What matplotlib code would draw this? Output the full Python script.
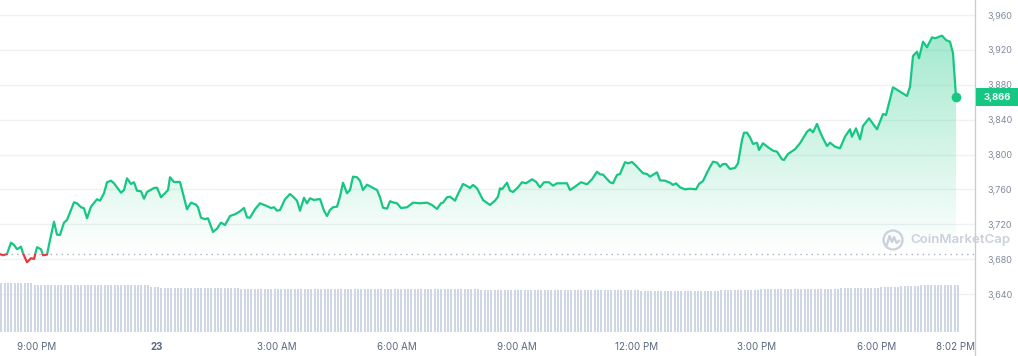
import numpy as np
import matplotlib.pyplot as plt
from matplotlib.patches import Polygon, Rectangle, Circle
from matplotlib.lines import Line2D
from matplotlib.colors import to_rgb
from matplotlib.transforms import blended_transform_factory

plt.rcParams['font.family'] = ['Inter', 'DejaVu Sans']

# minutes since 8:04 PM (previous day)
minutes = [0, 4.5, 10.5, 16.5, 21, 25.5, 31.5, 34.5, 40.5, 46.5,
           51, 55.5, 61.5, 64.5, 70.5, 75, 81, 85.5, 90, 96,
           100.5, 111, 115.5, 121.5, 126, 130.5, 136.5, 145.5, 150, 156,
           160.5, 166.5, 171, 181.5, 186, 190.5, 196.5, 201, 205.5, 211.5,
           216, 220.5, 231, 235.5, 241.5, 247.5, 252, 255, 261, 270,
           280.5, 286.5, 294, 297, 301.5, 307.5, 312, 319.5, 325.5, 331.5,
           337.5, 345, 352.5, 360, 366, 370.5, 375, 382.5, 390, 397.5,
           406.5, 411, 415.5, 420, 427.5, 435, 439.5, 445.5, 450, 456,
           460.5, 465, 471, 480, 486, 490.5, 495, 499.5, 505.5, 510,
           514.5, 520.5, 525, 529.5, 535.5, 540, 544.5, 550.5, 558, 565.5,
           570, 574.5, 580.5, 585, 591, 595.5, 601.5, 610.5, 619.5, 630,
           640.5, 648, 655.5, 661.5, 664.5, 670.5, 675, 682.5, 687, 694.5,
           700.5, 705, 709.5, 715.5, 724.5, 735, 742.5, 747, 750, 753,
           760.5, 765, 769.5, 777, 783, 789, 798, 804, 810, 816,
           823.5, 829.5, 835.5, 850.5, 855, 862.5, 871.5, 880.5, 888, 895.5,
           900, 904.5, 915, 919.5, 925.5, 930, 937.5, 942, 948, 952.5,
           964.5, 970.5, 975, 985.5, 990, 997.5, 1005, 1009.5, 1014, 1020,
           1027.5, 1035, 1044, 1048.5, 1054.5, 1062, 1069.5, 1075.5, 1080, 1084.5,
           1089, 1095, 1102.5, 1107, 1113, 1116, 1120.5, 1125, 1129.5, 1135.5,
           1138.5, 1144.5, 1152, 1159.5, 1165.5, 1173, 1176, 1182, 1192.5, 1200,
           1210.5, 1215, 1219.5, 1225.5, 1230, 1234.5, 1240.5, 1245, 1252.5, 1260,
           1267.5, 1275, 1278, 1284, 1290, 1294.5, 1303.5, 1315.5, 1324.5, 1329,
           1339.5, 1350, 1360.5, 1365, 1369.5, 1375.5, 1378.5, 1384.5, 1390.5, 1398,
           1402.5, 1413, 1419, 1425, 1429.5, 1434]

price = [3686.1, 3684.6, 3686.1, 3699.0, 3696.4, 3691.5, 3694.4, 3686.9, 3676.6, 3681.2,
         3680.4, 3693.8, 3691.5, 3684.6, 3685.3, 3702.1, 3723.1, 3708.2, 3707.9, 3722.0,
         3725.0, 3745.3, 3744.2, 3739.6, 3738.5, 3727.0, 3740.3, 3748.8, 3747.2, 3755.7,
         3768.3, 3770.1, 3767.1, 3756.3, 3759.4, 3772.8, 3766.3, 3768.3, 3758.6, 3757.9,
         3749.5, 3757.1, 3761.7, 3762.1, 3751.1, 3755.7, 3759.4, 3774.0, 3768.6, 3768.6,
         3737.3, 3744.9, 3742.6, 3739.6, 3727.7, 3725.9, 3727.0, 3711.3, 3715.1, 3722.0,
         3719.3, 3729.6, 3731.6, 3735.0, 3738.8, 3728.1, 3727.7, 3737.3, 3744.2, 3741.9,
         3738.8, 3739.6, 3735.7, 3736.5, 3748.8, 3754.8, 3751.8, 3747.2, 3735.7, 3750.6,
         3744.2, 3749.9, 3748.0, 3749.1, 3735.7, 3729.6, 3736.5, 3739.6, 3740.3, 3751.8,
         3767.8, 3755.7, 3759.4, 3774.7, 3774.0, 3770.1, 3759.4, 3765.5, 3762.5, 3759.4,
         3751.1, 3739.1, 3738.0, 3746.5, 3744.9, 3744.2, 3738.8, 3739.6, 3744.9, 3744.2,
         3744.9, 3742.2, 3737.7, 3744.2, 3744.9, 3751.1, 3751.8, 3747.2, 3754.8, 3766.3,
         3764.0, 3761.7, 3765.2, 3761.4, 3748.0, 3742.2, 3747.2, 3751.8, 3761.4, 3760.2,
         3767.8, 3758.6, 3757.1, 3762.5, 3768.3, 3767.1, 3771.7, 3768.9, 3762.5, 3768.3,
         3768.3, 3764.4, 3767.1, 3767.1, 3759.4, 3763.2, 3768.3, 3766.0, 3771.7, 3780.4,
         3777.4, 3777.0, 3768.3, 3767.1, 3776.6, 3777.8, 3791.2, 3790.0, 3791.5, 3788.4,
         3778.6, 3777.8, 3774.7, 3779.7, 3770.5, 3770.1, 3767.8, 3765.2, 3767.1, 3762.5,
         3760.2, 3760.9, 3760.2, 3766.3, 3769.7, 3781.6, 3791.9, 3790.8, 3786.1, 3789.2,
         3789.2, 3783.5, 3784.7, 3790.0, 3816.7, 3825.1, 3825.1, 3819.8, 3812.2, 3813.6,
         3805.3, 3813.0, 3808.4, 3804.5, 3803.3, 3794.6, 3793.8, 3800.7, 3806.1, 3813.0,
         3826.2, 3829.0, 3825.6, 3835.1, 3826.2, 3818.7, 3809.9, 3813.6, 3809.1, 3807.2,
         3820.5, 3829.0, 3820.5, 3830.1, 3817.5, 3832.8, 3841.6, 3829.0, 3846.5, 3845.4,
         3877.1, 3872.1, 3867.2, 3877.8, 3913.0, 3917.9, 3910.4, 3929.4, 3923.0, 3934.4,
         3933.3, 3936.3, 3931.3, 3929.4, 3916.1, 3866.0]

# 5-minute volume bars (relative units), 24 per row = 2 hours
volume = [48.7] * 10 + [47.0] * 14 + \
         [47.0] * 21 + [45.5] * 3 + \
         [44.5] * 24 + \
         [43.5] * 24 + \
         [43.0] * 24 + \
         [43.0] * 24 + \
         [42.5] * 24 + \
         [42.0] * 24 + \
         [41.5] * 24 + \
         [42.0] * 12 + [43.0] * 12 + \
         [43.5] * 12 + [44.5] * 12 + \
         [45.0] * 6 + [46.0] * 6 + [47.0] * 12

price_ticks = [3640, 3680, 3720, 3760, 3800, 3840, 3880, 3920, 3960]
time_ticks = [55.5, 235.5, 415.5, 595.5, 775.5, 955.5, 1135.5, 1315.5, 1434]
time_labels = ['9:00 PM', '23', '3:00 AM', '6:00 AM', '9:00 AM', '12:00 PM',
               '3:00 PM', '6:00 PM', '8:02 PM']

GREEN = '#16c784'
RED = '#ea3943'

t = np.array(minutes)
p = np.array(price)
open_price = p[0]
vol_t = np.arange(len(volume)) * 5 + 2

fig = plt.figure(figsize=(10.18, 3.56), dpi=100)
ax = fig.add_axes([0, 21 / 356, 975 / 1018, 335 / 356])
for s in ax.spines.values():
    s.set_visible(False)

# volume on its own scale
axv = ax.twinx()
axv.bar(vol_t, volume, width=3.0, color='#cfd6e4', linewidth=0)
axv.set_ylim(-3, 332)
axv.axis('off')

# gradient fill under the line
n = 256
img = np.zeros((n, 1, 4))
img[:, 0, :3] = to_rgb(GREEN)
img[:, 0, 3] = np.linspace(0.0, 0.40, n)
top = 3945
im = ax.imshow(img, extent=[0, t[-1], open_price, top], origin='lower',
               aspect='auto', zorder=1, interpolation='bilinear')
verts = [(t[0], open_price)] + list(zip(t, np.maximum(p, open_price))) + [(t[-1], open_price)]
clip = Polygon(verts, closed=True, transform=ax.transData, fc='none', ec='none')
ax.add_patch(clip)
im.set_clip_path(clip)

# line, green above open, red below
above = Rectangle((-100, open_price), 2000, 1000, transform=ax.transData)
below = Rectangle((-100, open_price - 1000), 2000, 1000, transform=ax.transData)
lg, = ax.plot(t, p, color=GREEN, lw=1.6, zorder=3, solid_joinstyle='round')
lg.set_clip_path(above)
lr, = ax.plot(t, p, color=RED, lw=1.6, zorder=3, solid_joinstyle='round')
lr.set_clip_path(below)
ax.axhline(open_price, color='#a6b0c3', lw=1, ls=(0, (1, 3)), zorder=2)
ax.plot(t[-1], p[-1], 'o', ms=6, color=GREEN, zorder=4, clip_on=False)

ax.set_xlim(0, 1462.5)
ax.set_ylim(3593.2, 3977.2)

ax.set_yticks(price_ticks)
ax.set_yticklabels(['{:,}'.format(v) for v in price_ticks])
ax.yaxis.tick_right()
ax.tick_params(axis='y', length=0, pad=9, labelsize=6.5, labelcolor='#808a9d')
ax.grid(axis='y', color='#eff1f4', lw=1)
ax.set_axisbelow(True)

ax.set_xticks(time_ticks)
ax.set_xticklabels(time_labels)
ax.tick_params(axis='x', length=0, pad=5, labelsize=7, labelcolor='#58667e')
ax.get_xticklabels()[1].set_fontweight('bold')

# right axis line
fig.add_artist(Line2D([975 / 1018, 975 / 1018], [0, 1], transform=fig.transFigure,
                      color='#c8ccd4', lw=1))

# current price badge
bt = blended_transform_factory(fig.transFigure, ax.transData)
fig.add_artist(Rectangle((976 / 1018, p[-1] - 10.3), 42 / 1018, 20.6, transform=bt,
                         color=GREEN, lw=0, zorder=5))
fig.text(984 / 1018, p[-1], '{:,.0f}'.format(p[-1]), transform=bt, color='white',
         fontsize=6.8, fontweight='bold', va='center', ha='left', zorder=6)

# watermark
cx, cy = 893 / 100, (356 - 240) / 100
fig.add_artist(Circle((cx, cy), 0.095, transform=fig.dpi_scale_trans, fill=False,
                      ec='#cbd0da', lw=1.6))
wx = [cx - 0.06, cx - 0.035, cx - 0.01, cx + 0.01, cx + 0.035, cx + 0.06]
wy = [cy - 0.045, cy + 0.04, cy - 0.02, cy + 0.03, cy - 0.03, cy - 0.01]
fig.add_artist(Line2D(wx, wy, transform=fig.dpi_scale_trans, color='#cbd0da', lw=1.6))
fig.text(910 / 1018, 1 - 240 / 356, 'CoinMarketCap', color='#cbd0da', fontsize=9.5,
         fontweight='semibold', va='center', ha='left')

fig.savefig('out.png', dpi=100)
